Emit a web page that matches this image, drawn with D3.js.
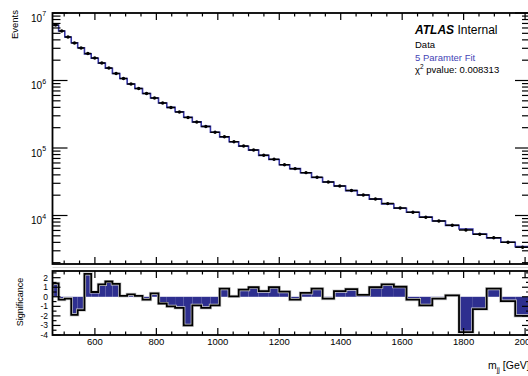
<!DOCTYPE html>
<html><head><meta charset="utf-8">
<script src="https://cdn.jsdelivr.net/npm/d3@7"></script>
<style>
body{margin:0;background:#fff}
svg{display:block}
text{font-family:"Liberation Sans",Arial,Helvetica,sans-serif;fill:#000}
</style>
</head><body>
<svg id="c" width="528" height="376"></svg>
<script>
// ---- data ----
const binEdges = [462, 482, 502, 523, 544, 566, 588, 611, 634, 657, 681, 705, 730, 755, 781, 807, 834, 861, 889, 917, 946, 976, 1006, 1037, 1068, 1100, 1133, 1166, 1200, 1234, 1269, 1305, 1341, 1378, 1416, 1454, 1493, 1533, 1573, 1614, 1656, 1698, 1741, 1785, 1830, 1875, 1921, 1968, 2016];
const dataEvents = [6.64e6, 5.41e6, 4.41e6, 3.59e6, 3.03e6, 2.51e6, 2.15e6, 1.82e6, 1.53e6, 1.27e6, 1.07e6, 8.88e5, 7.61e5, 6.42e5, 5.51e5, 4.64e5, 3.98e5, 3.42e5, 2.83e5, 2.43e5, 2.08e5, 1.71e5, 1.47e5, 1.24e5, 1.07e5, 9.34e4, 7.80e4, 6.80e4, 5.66e4, 4.94e4, 4.31e4, 3.68e4, 3.14e4, 2.74e4, 2.35e4, 2.01e4, 1.76e4, 1.50e4, 1.29e4, 1.12e4, 9.40e3, 8.29e3, 7.16e3, 6.10e3, 5.27e3, 4.69e3, 4.01e3, 3.38e3];
const fitEvents = [6.60e6, 5.42e6, 4.41e6, 3.62e6, 3.05e6, 2.48e6, 2.14e6, 1.81e6, 1.52e6, 1.27e6, 1.07e6, 8.87e5, 7.61e5, 6.42e5, 5.51e5, 4.65e5, 4.00e5, 3.44e5, 2.86e5, 2.44e5, 2.09e5, 1.71e5, 1.46e5, 1.24e5, 1.06e5, 9.30e4, 7.78e4, 6.77e4, 5.64e4, 4.95e4, 4.30e4, 3.66e4, 3.14e4, 2.73e4, 2.34e4, 2.01e4, 1.75e4, 1.48e4, 1.28e4, 1.12e4, 9.45e3, 8.30e3, 7.15e3, 6.30e3, 5.33e3, 4.66e3, 4.02e3, 3.46e3];
const significance = [1.4, -0.3, -0.2, -1.9, -1.4, 2.4, 0.5, 1.3, 1.6, 1.35, 0.1, 0.25, 0.1, -0.3, 0.35, -0.7, -1.0, -1.15, -3.0, -0.9, -1.15, -0.9, 0.85, 0.05, 0.75, 1.0, 0.6, 1.0, 0.55, -0.3, 0.4, 0.85, -0.2, 0.6, 0.8, 0.2, 1.0, 1.3, 1.05, -0.3, -0.9, -0.2, 0.15, -3.7, -1.3, 0.85, -0.45, -2.0];
const xTickValues = [600, 800, 1000, 1200, 1400, 1600, 1800, 2000];
const yDecades = [4, 5, 6, 7];
const sigTickValues = [2, 1, 0, -1, -2, -3, -4];
const legendLines = ["Data", "5 Paramter Fit"];
const pvalueText = "pvalue: 0.008313";

// ---- layout ----
const L = 52.5, R = 530, mainT = 13, mainB = 264, ratT = 271, ratB = 335;
const svg = d3.select("#c");

const x = d3.scaleLinear().domain([462, 2016]).range([L, R]);
const y = d3.scaleLog().domain([1912, 1e7]).range([mainB, mainT]);
const ys = d3.scaleLinear().domain([-4, 2.7]).range([ratB, ratT]);

const bins = d3.range(binEdges.length - 1).map(i => ({
  x0: binEdges[i], x1: binEdges[i + 1],
  d: dataEvents[i], f: fitEvents[i], s: significance[i]
}));

const defs = svg.append("defs");
defs.append("clipPath").attr("id", "cm").append("rect")
  .attr("x", L).attr("y", mainT).attr("width", R - L).attr("height", mainB - mainT);
defs.append("clipPath").attr("id", "cr").append("rect")
  .attr("x", L).attr("y", ratT).attr("width", R - L).attr("height", ratB - ratT);

// ---- main panel ----
const gm = svg.append("g").attr("clip-path", "url(#cm)");
// fit as blue step histogram
let fitPath = "";
bins.forEach((b, i) => {
  const X0 = x(b.x0), X1 = x(b.x1), Y = y(b.f);
  fitPath += (i === 0 ? "M" + X0 + "," + Y : "L" + X0 + "," + Y) + "L" + X1 + "," + Y;
});
gm.append("path").attr("d", fitPath).attr("fill", "none")
  .attr("stroke", "#3535a8").attr("stroke-width", 1.6);
// data: horizontal bin-width bars + markers
gm.selectAll("line.dh").data(bins).join("line").attr("class", "dh")
  .attr("x1", b => x(b.x0)).attr("x2", b => x(b.x1))
  .attr("y1", b => y(b.d)).attr("y2", b => y(b.d))
  .attr("stroke", "#000").attr("stroke-width", 1.5);
gm.selectAll("line.dv").data(bins).join("line").attr("class", "dv")
  .attr("x1", b => x((b.x0 + b.x1) / 2)).attr("x2", b => x((b.x0 + b.x1) / 2))
  .attr("y1", b => y(b.d + Math.sqrt(b.d)) - 0.8).attr("y2", b => y(Math.max(1, b.d - Math.sqrt(b.d))) + 0.8)
  .attr("stroke", "#000").attr("stroke-width", 1);
gm.selectAll("circle").data(bins).join("circle")
  .attr("cx", b => x((b.x0 + b.x1) / 2)).attr("cy", b => y(b.d)).attr("r", 1.7).attr("fill", "#000");

// ---- ratio panel ----
const gr = svg.append("g").attr("clip-path", "url(#cr)");
gr.selectAll("rect").data(bins).join("rect")
  .attr("x", b => x(b.x0)).attr("width", b => x(b.x1) - x(b.x0))
  .attr("y", b => Math.min(ys(0), ys(b.s))).attr("height", b => Math.abs(ys(b.s) - ys(0)))
  .attr("fill", "#2e2f8f");
let sigPath = "M" + x(binEdges[0]) + "," + ys(0);
bins.forEach(b => { sigPath += "L" + x(b.x0) + "," + ys(b.s) + "L" + x(b.x1) + "," + ys(b.s); });
sigPath += "L" + x(binEdges[binEdges.length - 1]) + "," + ys(0);
gr.append("path").attr("d", sigPath).attr("fill", "none")
  .attr("stroke", "#cfcfcf").attr("stroke-width", 3.2).attr("stroke-linejoin", "miter");
gr.append("path").attr("d", sigPath).attr("fill", "none")
  .attr("stroke", "#000").attr("stroke-width", 1.8).attr("stroke-linejoin", "miter");

// separator line between panels
svg.append("line").attr("x1", L).attr("x2", R).attr("y1", 267.5).attr("y2", 267.5)
  .attr("stroke", "#d8d8d8").attr("stroke-width", 1);

// ---- axes ----
const xMinor = d3.range(500, 2016, 50).filter(v => v % 200 !== 0);
function xTicks(yPos, dir, majLen, minLen) {
  const g = svg.append("g");
  g.selectAll("line.mj").data(xTickValues).join("line")
    .attr("x1", d => x(d)).attr("x2", d => x(d)).attr("y1", yPos).attr("y2", yPos + dir * majLen)
    .attr("stroke", "#000").attr("stroke-width", 1.2);
  g.selectAll("line.mn").data(xMinor).join("line")
    .attr("x1", d => x(d)).attr("x2", d => x(d)).attr("y1", yPos).attr("y2", yPos + dir * minLen)
    .attr("stroke", "#000").attr("stroke-width", 1.2);
}
xTicks(mainB, -1, 7, 3.5);
xTicks(mainT, 1, 7, 3.5);
xTicks(ratB, -1, 7, 3.5);
xTicks(ratT, 1, 7, 3.5);

// log y ticks
const yMajor = yDecades.map(e => Math.pow(10, e));
const yMinor = [];
[3, 4, 5, 6].forEach(e => { for (let k = 2; k <= 9; k++) { const v = k * Math.pow(10, e); if (v >= 1912 && v <= 1e7) yMinor.push(v); } });
function yTicksMain(xPos, dir) {
  const g = svg.append("g");
  g.selectAll("line.mj").data(yMajor).join("line")
    .attr("x1", xPos).attr("x2", xPos + dir * 15).attr("y1", d => y(d)).attr("y2", d => y(d))
    .attr("stroke", "#000").attr("stroke-width", 1.2);
  g.selectAll("line.mn").data(yMinor).join("line")
    .attr("x1", xPos).attr("x2", xPos + dir * 8).attr("y1", d => y(d)).attr("y2", d => y(d))
    .attr("stroke", "#000").attr("stroke-width", 1.2);
}
yTicksMain(L, 1);
yTicksMain(R, -1);

// ratio y ticks
const sigMinor = d3.range(-3.5, 2.7, 1);
function yTicksRatio(xPos, dir) {
  const g = svg.append("g");
  g.selectAll("line.mj").data(sigTickValues).join("line")
    .attr("x1", xPos).attr("x2", xPos + dir * 8).attr("y1", d => ys(d)).attr("y2", d => ys(d))
    .attr("stroke", "#000").attr("stroke-width", 1.2);
  g.selectAll("line.mn").data(sigMinor).join("line")
    .attr("x1", xPos).attr("x2", xPos + dir * 4).attr("y1", d => ys(d)).attr("y2", d => ys(d))
    .attr("stroke", "#000").attr("stroke-width", 1.2);
}
yTicksRatio(L, 1);
yTicksRatio(R, -1);

// frames
[[mainT, mainB], [ratT, ratB]].forEach(([t, b]) => {
  svg.append("rect").attr("x", L).attr("y", t).attr("width", R - L).attr("height", b - t)
    .attr("fill", "none").attr("stroke", "#000").attr("stroke-width", 1.8);
});

// ---- labels ----
// main y labels 10^n
const yl = svg.append("g");
yDecades.forEach(e => {
  const yy = y(Math.pow(10, e));
  const t = yl.append("text").attr("x", 42).attr("y", yy + 8.5).attr("text-anchor", "end")
    .attr("font-size", 10).text("10");
  yl.append("text").attr("x", 42.3).attr("y", yy + 3).attr("font-size", 7).text(String(e));
});
// ratio y labels
svg.append("g").selectAll("text").data(sigTickValues).join("text")
  .attr("x", 48).attr("y", d => ys(d) + 3).attr("text-anchor", "end")
  .attr("font-size", 8.5).text(d => d);
// x labels
svg.append("g").selectAll("text").data(xTickValues).join("text")
  .attr("x", d => x(d)).attr("y", 344.5).attr("text-anchor", "middle")
  .attr("font-size", 9.5).text(d => d);

// axis titles
svg.append("text").attr("transform", "translate(17.5,10) rotate(-90)")
  .attr("text-anchor", "end").attr("font-size", 9.5).text("Events");
svg.append("text").attr("transform", "translate(22.5,302) rotate(-90)")
  .attr("text-anchor", "middle").attr("font-size", 9).text("Significance");
const xt = svg.append("text").attr("x", 488).attr("y", 369).attr("font-size", 10.5);
xt.append("tspan").text("m");
xt.append("tspan").attr("font-size", 7).attr("dy", 2.5).text("jj");
xt.append("tspan").attr("dy", -2.5).text(" [GeV]");

// ATLAS label + legend
const at = svg.append("text").attr("x", 415).attr("y", 34).attr("font-size", 12);
at.append("tspan").attr("font-weight", "bold").attr("font-style", "italic").text("ATLAS");
at.append("tspan").text(" Internal");
svg.append("text").attr("x", 415).attr("y", 48).attr("font-size", 9.5).text(legendLines[0]);
svg.append("text").attr("x", 415).attr("y", 60.5).attr("font-size", 9.5)
  .style("fill", "#4545b5").text(legendLines[1]);
const ch = svg.append("text").attr("x", 415).attr("y", 73).attr("font-size", 9.5);
ch.append("tspan").text("\u03c7");
ch.append("tspan").attr("font-size", 6.5).attr("dy", -4).text("2");
ch.append("tspan").attr("dy", 4).text(" " + pvalueText);
</script>
</body></html>
